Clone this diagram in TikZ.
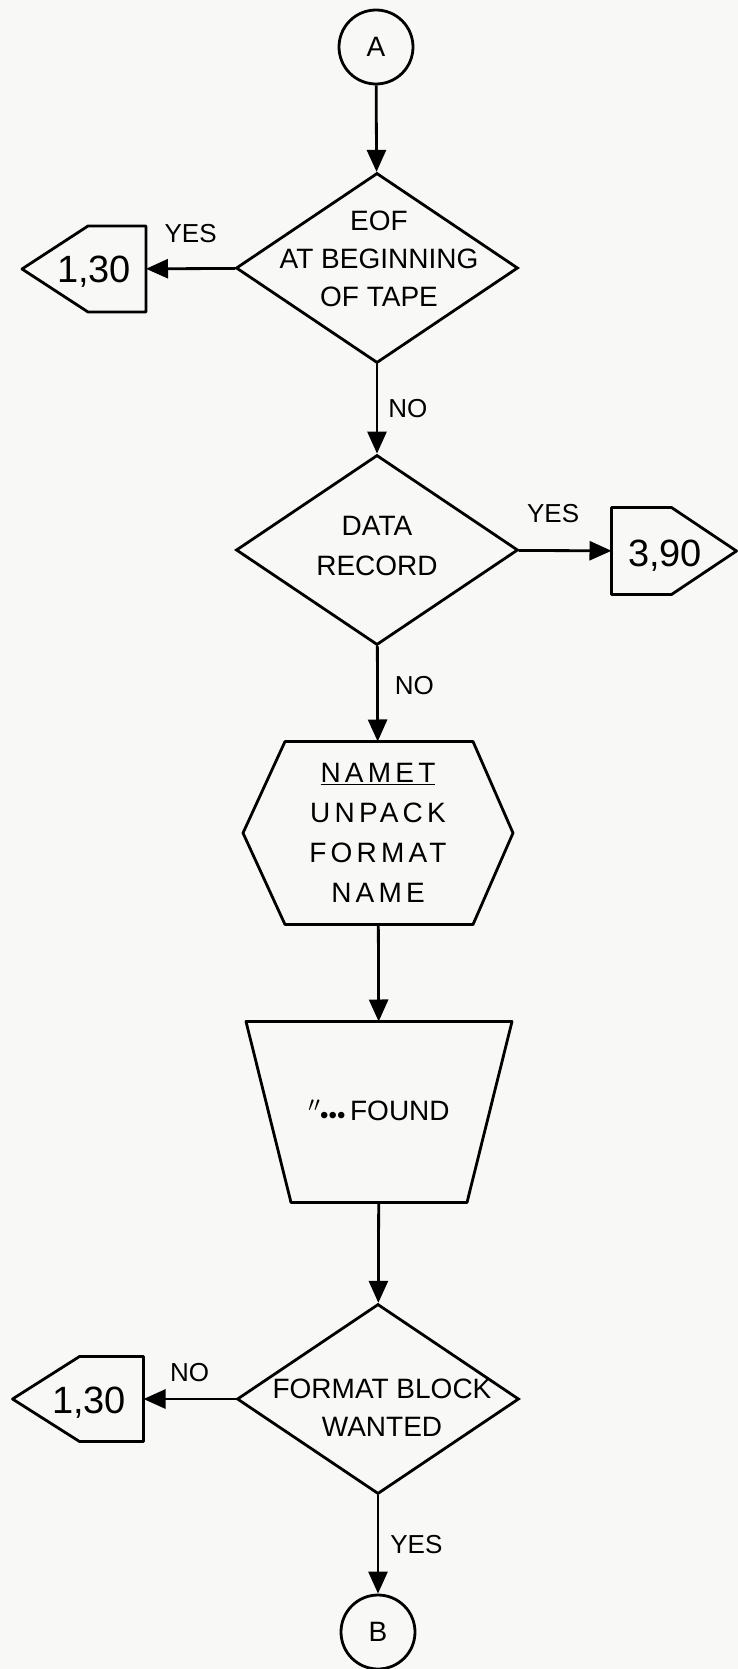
\documentclass[tikz,border=0pt]{standalone}
\usepackage{fontspec}
\setmainfont{Liberation Sans}
\usepackage{xcolor}
\usetikzlibrary{arrows.meta,positioning,shapes.geometric}

\definecolor{paper}{RGB}{248,248,246}

\tikzset{
  outline/.style={line width=2.8pt, line join=round},
  flow/.style={line width=2.8pt, -{Triangle[length=22pt,width=19pt]}},
  pin/.style={circle, draw, line width=2.8pt, minimum size=74pt, inner sep=0pt, font=\fontsize{28}{34}\selectfont},
  decision/.style={diamond, draw, line width=2.8pt, minimum width=282pt, minimum height=190pt, inner sep=0pt},
  dtext/.style={align=center, inner sep=0pt, font=\fontsize{28}{38}\selectfont},
  frame/.style={rectangle, inner sep=0pt, outer sep=0pt},
  numtext/.style={inner sep=0pt, font=\fontsize{38}{40}\selectfont},
  lbl/.style={inner sep=0pt, font=\fontsize{26}{30}\selectfont}
}

\begin{document}
\begin{tikzpicture}[x=1pt, y=-1pt]
\useasboundingbox (0,0) rectangle (738,1669);
\fill[paper] (0,0) rectangle (738,1669);

\node[pin] (A) at (376,47) {A};
\node[decision] (eof) at (377,268) {};
\node[dtext] (eoftext) at (379,259) {EOF\\AT BEGINNING\\OF TAPE};

\node[frame, minimum width=124pt, minimum height=86pt] (ret1) at (84,269) {};
\draw[outline] (ret1.west) -- ([xshift=66pt]ret1.north west) -- (ret1.north east)
  -- (ret1.south east) -- ([xshift=66pt]ret1.south west) -- cycle;
\node[numtext] (ret1num) at (94,272) {1,30};

\node[decision] (data) at (377,550) {};
\node[dtext, font=\fontsize{28}{40}\selectfont] (datatext) at (377,546) {DATA\\RECORD};

\node[frame, minimum width=125pt, minimum height=87pt] (go390) at (674,551) {};
\draw[outline] (go390.north west) -- ([xshift=-65pt]go390.north east) -- (go390.east)
  -- ([xshift=-65pt]go390.south east) -- (go390.south west) -- cycle;
\node[numtext] (go390num) at (665,556) {3,90};

\node[frame, minimum width=270pt, minimum height=183pt, align=center,
  font=\fontsize{28}{40}\selectfont\addfontfeature{LetterSpace=15}] (namet) at (378,833)
  {\underline{NAMET}\\UNPACK\\FORMAT\\NAME};
\draw[outline] (namet.west) -- ([xshift=42pt]namet.north west) -- ([xshift=-40pt]namet.north east)
  -- (namet.east) -- ([xshift=-40pt]namet.south east) -- ([xshift=42pt]namet.south west) -- cycle;

\node[frame, minimum width=266pt, minimum height=181pt, font=\fontsize{28}{34}\selectfont] (found) at (379,1112)
  {$''$\raisebox{-3pt}{\fontsize{24}{24}\selectfont\textbullet\textbullet\textbullet}\,FOUND};
\draw[outline] (found.north west) -- (found.north east) -- ([xshift=-45pt]found.south east)
  -- ([xshift=45pt]found.south west) -- cycle;

\node[decision] (wanted) at (378,1399) {};
\node[dtext] (wantedtext) at (382,1408) {FORMAT BLOCK\\WANTED};

\node[frame, minimum width=131pt, minimum height=85pt] (ret2) at (78,1399) {};
\draw[outline] (ret2.west) -- ([xshift=67pt]ret2.north west) -- (ret2.north east)
  -- (ret2.south east) -- ([xshift=67pt]ret2.south west) -- cycle;
\node[numtext] (ret2num) at (89,1403) {1,30};

\node[pin] (B) at (378,1632) {B};

% connectors
\draw[flow] (A) -- (eof);
\draw[flow] (eof) -- node[lbl, above=24pt] {YES} (ret1);
\draw[flow] (eof) -- node[lbl, right=10pt] {NO} (data);
\draw[flow] (data) -- node[lbl, above=26pt, xshift=-12pt] {YES} (go390);
\draw[flow] (data) -- node[lbl, right=16pt, yshift=8pt] {NO} (namet);
\draw[flow] (namet) -- (found);
\draw[flow] (found) -- (wanted);
\draw[flow] (wanted) -- node[lbl, above=16pt] {NO} (ret2);
\draw[flow] (wanted) -- node[lbl, right=11pt] {YES} (B);
\end{tikzpicture}
\end{document}
